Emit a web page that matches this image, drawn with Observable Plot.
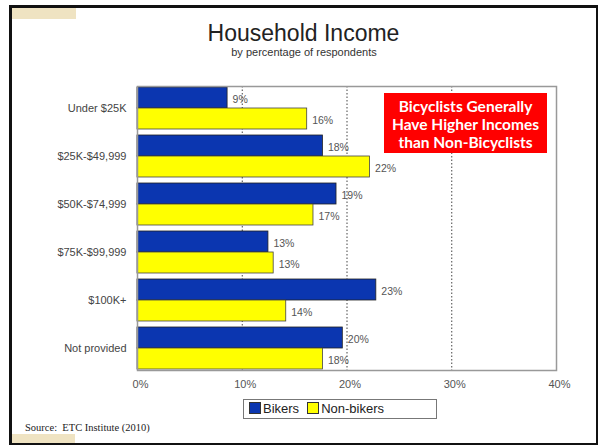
<!DOCTYPE html>
<html>
<head>
<meta charset="utf-8">
<script src="https://cdn.jsdelivr.net/npm/d3@7"></script>
<script src="https://cdn.jsdelivr.net/npm/@observablehq/plot@0.6"></script>
<style>
  html, body { margin: 0; padding: 0; background: #fff; }
  #wrap { position: relative; width: 600px; height: 447px; overflow: hidden; font-family: Arial, "Liberation Sans", sans-serif; }
  #wrap svg { position: absolute; left: 0; top: 0; }
  .abs { position: absolute; }
</style>
</head>
<body>
<div id="wrap">
  <div class="abs" style="left:9px;top:5px;width:584px;height:435px;border:3px solid #111;border-right-width:2px;border-bottom-width:2px;"></div>
  <div class="abs" style="left:12px;top:8px;width:64px;height:11px;background:#efe3c2;"></div>
  <div class="abs" style="left:12px;top:434px;width:63px;height:9px;background:#efe3c2;"></div>
  <div id="title" class="abs" style="left:3.5px;width:600px;top:22px;text-align:center;font-size:23px;line-height:23px;color:#222;">Household Income</div>
  <div id="subtitle" class="abs" style="left:4px;width:600px;top:47px;text-align:center;font-size:11px;line-height:11px;color:#333;">by percentage of respondents</div>
  <div id="chart"></div>
  <div id="callout" class="abs" style="left:384px;top:93px;width:163px;height:60px;background:#ff0000;color:#fff;font-family:Lato, 'Open Sans', sans-serif;font-weight:bold;font-size:15.5px;line-height:18px;text-align:center;padding-top:4px;box-sizing:border-box;white-space:nowrap;">Bicyclists Generally<br>Have Higher Incomes<br>than Non-Bicyclists</div>
  <div id="legend" class="abs" style="left:243px;top:399px;width:192px;height:18px;border:1px solid #777;font-size:13px;color:#222;line-height:18px;"></div>
  <div id="source" class="abs" style="left:25px;top:422px;font-family:'Liberation Serif','DejaVu Serif',serif;font-size:10.5px;color:#222;">Source:&nbsp; ETC Institute (2010)</div>
</div>
<script>
const categories = ["Under $25K", "$25K-$49,999", "$50K-$74,999", "$75K-$99,999", "$100K+", "Not provided"];
const bikers = [8.6, 17.7, 19.0, 12.5, 22.8, 19.6];
const nonBikers = [16.2, 22.2, 16.8, 13.0, 14.2, 17.7];
const seriesNames = ["Bikers", "Non-bikers"];
const seriesColors = ["#0b36b0", "#ffff00"];
const xTicks = [0, 10, 20, 30, 40];
const gridValues = [10, 20, 30];

const dataB = categories.map((c, i) => ({category: c, value: bikers[i], series: seriesNames[0]}));
const dataN = categories.map((c, i) => ({category: c, value: nonBikers[i], series: seriesNames[1]}));

const half = 21;
const chart = Plot.plot({
  width: 600,
  height: 447,
  marginLeft: 137,
  marginRight: 44,
  marginTop: 86,
  marginBottom: 77,
  style: {background: "transparent", fontFamily: "Arial, 'Liberation Sans', sans-serif"},
  x: {domain: [0, 40], ticks: xTicks, tickFormat: d => d + "%", label: null},
  y: {domain: categories, paddingInner: 0.125, paddingOuter: 0.02, label: null},
  marks: [
    Plot.ruleX(gridValues, {stroke: "#444", strokeWidth: 1, strokeDasharray: "1.5,2"}),
    Plot.barX(dataB, {x: "value", y: "category", fill: seriesColors[0], stroke: "#222", strokeWidth: 0.8, insetBottom: half}),
    Plot.barX(dataN, {x: "value", y: "category", fill: seriesColors[1], stroke: "#444", strokeWidth: 0.8, insetTop: half}),
    Plot.text(dataB, {x: "value", y: "category", text: d => Math.round(d.value) + "%", dx: 5, dy: -9, textAnchor: "start", fill: "#555", fontSize: 10.5}),
    Plot.text(dataN, {x: "value", y: "category", text: d => Math.round(d.value) + "%", dx: 5, dy: 12, textAnchor: "start", fill: "#555", fontSize: 10.5}),
    Plot.frame({stroke: "#999", strokeWidth: 1.5}),
    Plot.axisX({ticks: xTicks, tickFormat: d => d + "%", tickSize: 0, tickPadding: 10, fontSize: 11, fill: "#555", dx: 3}),
    Plot.axisY({tickSize: 0, tickPadding: 11, fontSize: 11, fill: "#444"})
  ]
});
document.getElementById("chart").appendChild(chart);

const legend = document.getElementById("legend");
seriesNames.forEach((name, i) => {
  const sw = document.createElement("span");
  sw.style.cssText = `display:inline-block;width:10px;height:10px;background:${seriesColors[i]};border:1px solid #333;vertical-align:-1px;margin-left:${i === 0 ? 5 : 8}px;margin-right:2px;`;
  legend.appendChild(sw);
  const t = document.createElement("span");
  t.textContent = name;
  legend.appendChild(t);
});
</script>
</body>
</html>
